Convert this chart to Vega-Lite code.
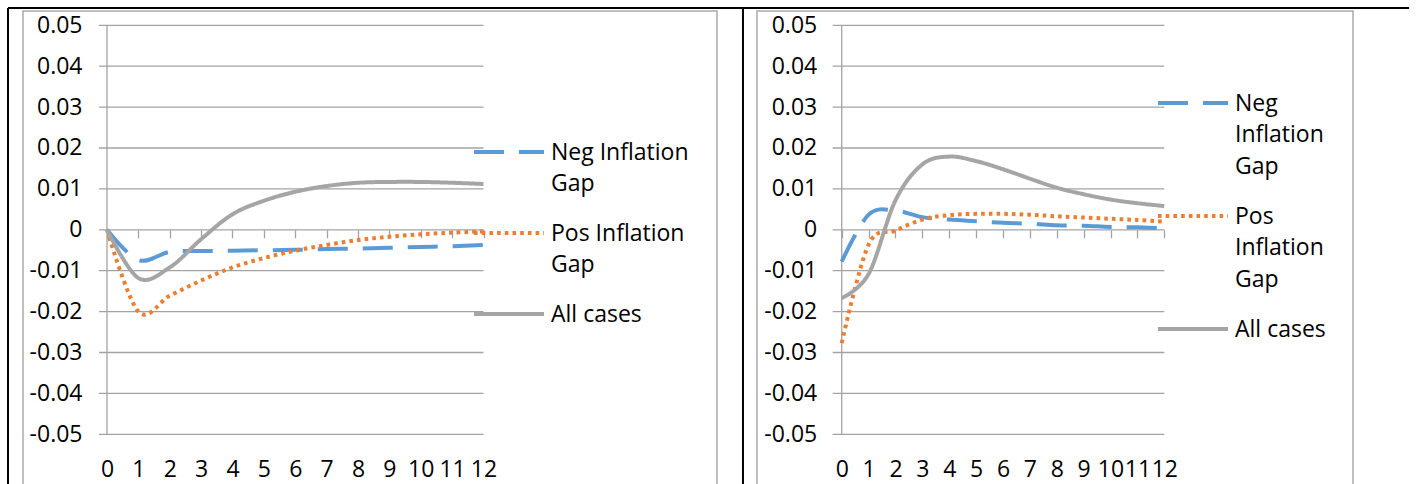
{
  "$schema": "https://vega.github.io/schema/vega-lite/v6.json",
  "padding": {"left": 6, "top": 6, "right": 0, "bottom": 0},
  "bounds": "flush",
  "spacing": 40,
  "config": {
    "font": "Open Sans",
    "view": {"stroke": "#ABABAB", "strokeWidth": 1.5},
    "style": {"guide-label": {"lineHeight": 31.5, "dy": -10.5}}
  },
  "datasets": {
    "grid": [{"g": -0.05}, {"g": -0.04}, {"g": -0.03}, {"g": -0.02}, {"g": -0.01}, {"g": 0}, {"g": 0.01}, {"g": 0.02}, {"g": 0.03}, {"g": 0.04}, {"g": 0.05}],
    "left": [
      {"x": 0, "s": "Neg Inflation Gap", "v": 0}, {"x": 1, "s": "Neg Inflation Gap", "v": -0.0074}, {"x": 2, "s": "Neg Inflation Gap", "v": -0.0054}, {"x": 3, "s": "Neg Inflation Gap", "v": -0.0052}, {"x": 4, "s": "Neg Inflation Gap", "v": -0.0051}, {"x": 5, "s": "Neg Inflation Gap", "v": -0.005}, {"x": 6, "s": "Neg Inflation Gap", "v": -0.0049}, {"x": 7, "s": "Neg Inflation Gap", "v": -0.0047}, {"x": 8, "s": "Neg Inflation Gap", "v": -0.0046}, {"x": 9, "s": "Neg Inflation Gap", "v": -0.0044}, {"x": 10, "s": "Neg Inflation Gap", "v": -0.0042}, {"x": 11, "s": "Neg Inflation Gap", "v": -0.004}, {"x": 12, "s": "Neg Inflation Gap", "v": -0.0037},
      {"x": 0, "s": "Pos Inflation Gap", "v": 0}, {"x": 1, "s": "Pos Inflation Gap", "v": -0.02}, {"x": 2, "s": "Pos Inflation Gap", "v": -0.0161}, {"x": 3, "s": "Pos Inflation Gap", "v": -0.0124}, {"x": 4, "s": "Pos Inflation Gap", "v": -0.0092}, {"x": 5, "s": "Pos Inflation Gap", "v": -0.0069}, {"x": 6, "s": "Pos Inflation Gap", "v": -0.0051}, {"x": 7, "s": "Pos Inflation Gap", "v": -0.0037}, {"x": 8, "s": "Pos Inflation Gap", "v": -0.0025}, {"x": 9, "s": "Pos Inflation Gap", "v": -0.0017}, {"x": 10, "s": "Pos Inflation Gap", "v": -0.0011}, {"x": 11, "s": "Pos Inflation Gap", "v": -0.0007}, {"x": 12, "s": "Pos Inflation Gap", "v": -0.0004},
      {"x": 0, "s": "All cases", "v": 0}, {"x": 1, "s": "All cases", "v": -0.0118}, {"x": 2, "s": "All cases", "v": -0.0092}, {"x": 3, "s": "All cases", "v": -0.0023}, {"x": 4, "s": "All cases", "v": 0.0038}, {"x": 5, "s": "All cases", "v": 0.0071}, {"x": 6, "s": "All cases", "v": 0.0093}, {"x": 7, "s": "All cases", "v": 0.0107}, {"x": 8, "s": "All cases", "v": 0.0115}, {"x": 9, "s": "All cases", "v": 0.0117}, {"x": 10, "s": "All cases", "v": 0.0117}, {"x": 11, "s": "All cases", "v": 0.0115}, {"x": 12, "s": "All cases", "v": 0.0112}
    ],
    "right": [
      {"x": 0, "s": "Neg Inflation Gap", "v": -0.0078}, {"x": 1, "s": "Neg Inflation Gap", "v": 0.0037}, {"x": 2, "s": "Neg Inflation Gap", "v": 0.0047}, {"x": 3, "s": "Neg Inflation Gap", "v": 0.0031}, {"x": 4, "s": "Neg Inflation Gap", "v": 0.0025}, {"x": 5, "s": "Neg Inflation Gap", "v": 0.0021}, {"x": 6, "s": "Neg Inflation Gap", "v": 0.0017}, {"x": 7, "s": "Neg Inflation Gap", "v": 0.0015}, {"x": 8, "s": "Neg Inflation Gap", "v": 0.0011}, {"x": 9, "s": "Neg Inflation Gap", "v": 0.001}, {"x": 10, "s": "Neg Inflation Gap", "v": 0.0007}, {"x": 11, "s": "Neg Inflation Gap", "v": 0.0006}, {"x": 12, "s": "Neg Inflation Gap", "v": 0.0004},
      {"x": 0, "s": "Pos Inflation Gap", "v": -0.0277}, {"x": 1, "s": "Pos Inflation Gap", "v": -0.0036}, {"x": 2, "s": "Pos Inflation Gap", "v": -0.0002}, {"x": 3, "s": "Pos Inflation Gap", "v": 0.0025}, {"x": 4, "s": "Pos Inflation Gap", "v": 0.0036}, {"x": 5, "s": "Pos Inflation Gap", "v": 0.0039}, {"x": 6, "s": "Pos Inflation Gap", "v": 0.0039}, {"x": 7, "s": "Pos Inflation Gap", "v": 0.0037}, {"x": 8, "s": "Pos Inflation Gap", "v": 0.0033}, {"x": 9, "s": "Pos Inflation Gap", "v": 0.003}, {"x": 10, "s": "Pos Inflation Gap", "v": 0.0027}, {"x": 11, "s": "Pos Inflation Gap", "v": 0.0024}, {"x": 12, "s": "Pos Inflation Gap", "v": 0.002},
      {"x": 0, "s": "All cases", "v": -0.0167}, {"x": 1, "s": "All cases", "v": -0.0108}, {"x": 2, "s": "All cases", "v": 0.0072}, {"x": 3, "s": "All cases", "v": 0.016}, {"x": 4, "s": "All cases", "v": 0.0179}, {"x": 5, "s": "All cases", "v": 0.0168}, {"x": 6, "s": "All cases", "v": 0.0148}, {"x": 7, "s": "All cases", "v": 0.0125}, {"x": 8, "s": "All cases", "v": 0.0103}, {"x": 9, "s": "All cases", "v": 0.0087}, {"x": 10, "s": "All cases", "v": 0.0074}, {"x": 11, "s": "All cases", "v": 0.0065}, {"x": 12, "s": "All cases", "v": 0.0058}
    ]
  },
  "resolve": {
    "scale": {"x": "independent", "y": "independent", "color": "independent", "strokeDash": "independent"},
    "legend": {"color": "independent", "strokeDash": "independent"}
  },
  "hconcat": [
    {
      "width": 694,
      "height": 500,
      "layer": [
        {
          "data": {"name": "grid"},
          "mark": {"type": "rule", "color": "#A3A3A3", "strokeWidth": 1.3},
          "encoding": {
            "y": {"field": "g", "type": "quantitative", "scale": {"domain": [-0.068753, 0.053496], "nice": false, "zero": false}},
            "x": {"datum": -0.255, "type": "quantitative", "scale": {"domain": [-2.677, 19.442], "nice": false, "zero": false}},
            "x2": {"datum": 12}
          }
        },
        {
          "data": {"values": [{}]},
          "mark": {"type": "rule", "color": "#A3A3A3", "strokeWidth": 1.3},
          "encoding": {
            "x": {"datum": 0, "type": "quantitative", "scale": {"domain": [-2.677, 19.442], "nice": false, "zero": false}},
            "y": {"datum": -0.05, "type": "quantitative", "scale": {"domain": [-0.068753, 0.053496], "nice": false, "zero": false}},
            "y2": {"datum": 0.05}
          }
        },
        {
          "data": {"values": [{}]},
          "mark": {"type": "rule", "color": "#000000", "strokeWidth": 2},
          "encoding": {
            "x": {"datum": -3.155, "type": "quantitative", "scale": {"domain": [-2.677, 19.442], "nice": false, "zero": false}},
            "y": {"datum": 0.05423, "type": "quantitative", "scale": {"domain": [-0.068753, 0.053496], "nice": false, "zero": false}},
            "y2": {"datum": -0.0688}
          }
        },
        {
          "data": {"values": [{}]},
          "mark": {"type": "rule", "color": "#000000", "strokeWidth": 2},
          "encoding": {
            "x": {"datum": 20.27, "type": "quantitative", "scale": {"domain": [-2.677, 19.442], "nice": false, "zero": false}},
            "y": {"datum": 0.05423, "type": "quantitative", "scale": {"domain": [-0.068753, 0.053496], "nice": false, "zero": false}},
            "y2": {"datum": -0.0688}
          }
        },
        {
          "data": {"values": [{}]},
          "mark": {"type": "rule", "color": "#000000", "strokeWidth": 2},
          "encoding": {
            "x": {"datum": -3.155, "type": "quantitative", "scale": {"domain": [-2.677, 19.442], "nice": false, "zero": false}},
            "x2": {"datum": 41.5},
            "y": {"datum": 0.05423, "type": "quantitative", "scale": {"domain": [-0.068753, 0.053496], "nice": false, "zero": false}}
          }
        },
        {
          "data": {"name": "left"},
          "mark": {"type": "line", "strokeWidth": 4, "strokeCap": "butt", "interpolate": "cardinal"},
          "encoding": {
            "x": {"field": "x", "type": "quantitative", "scale": {"domain": [-2.677, 19.442], "nice": false, "zero": false},
              "axis": {"title": null, "orient": "bottom", "offset": -281.2, "domain": false, "ticks": true, "tickSize": 8, "tickColor": "#A3A3A3", "tickWidth": 1.3, "grid": false,
                "labelPadding": 231, "values": [0, 1, 2, 3, 4, 5, 6, 7, 8, 9, 10, 11, 12], "format": "d",
                "labelFont": "Open Sans", "labelFontSize": 23, "labelColor": "#000000", "labelOverlap": false, "labelFlush": false, "labelBound": false}},
            "y": {"field": "v", "type": "quantitative", "scale": {"domain": [-0.068753, 0.053496], "nice": false, "zero": false},
              "axis": {"title": null, "orient": "left", "offset": -84, "domain": false, "ticks": false, "tickSize": 0, "grid": false, "labelPadding": 25, "labelOffset": 10.5,
                "values": [-0.05, -0.04, -0.03, -0.02, -0.01, 0, 0.01, 0.02, 0.03, 0.04, 0.05],
                "labelExpr": "datum.value == 0 ? '0' : (datum.value < 0 ? '-' : '') + format(abs(datum.value), '.2f')",
                "labelFont": "Open Sans", "labelFontSize": 23, "labelColor": "#000000", "labelBound": false, "labelOverlap": false}},
            "color": {"field": "s", "type": "nominal",
              "scale": {"domain": ["Neg Inflation Gap", "Pos Inflation Gap", "All cases"], "range": ["#5B9BD5", "#ED7D31", "#A5A5A5"]},
              "legend": {"title": null, "orient": "none", "legendX": 449, "legendY": 104, "direction": "vertical", "padding": 0,
                "symbolType": "stroke", "symbolSize": 4900, "symbolStrokeWidth": 4, "labelOffset": 5, "rowPadding": 0,
                "labelFont": "Open Sans", "labelFontSize": 23, "labelColor": "#000000", "labelLimit": 400, "labelBaseline": "top",
                "labelExpr": "datum.label == 'All cases' ? datum.label : [replace(datum.label, ' Gap', ''), 'Gap']"}},
            "strokeDash": {"field": "s", "type": "nominal",
              "scale": {"domain": ["Neg Inflation Gap", "Pos Inflation Gap", "All cases"], "range": [[30, 15], [3.6, 4.1], [1, 0]]},
              "legend": {"title": null, "orient": "none", "legendX": 449, "legendY": 104, "direction": "vertical", "padding": 0,
                "symbolType": "stroke", "symbolSize": 4900, "symbolStrokeWidth": 4, "labelOffset": 5, "rowPadding": 0,
                "labelFont": "Open Sans", "labelFontSize": 23, "labelColor": "#000000", "labelLimit": 400, "labelBaseline": "top",
                "labelExpr": "datum.label == 'All cases' ? datum.label : [replace(datum.label, ' Gap', ''), 'Gap']"}}
          }
        }
      ]
    },
    {
      "width": 596,
      "height": 500,
      "layer": [
        {
          "data": {"name": "grid"},
          "mark": {"type": "rule", "color": "#A3A3A3", "strokeWidth": 1.3},
          "encoding": {
            "y": {"field": "g", "type": "quantitative", "scale": {"domain": [-0.068753, 0.053496], "nice": false, "zero": false}},
            "x": {"datum": -0.335, "type": "quantitative", "scale": {"domain": [-3.151, 19.02], "nice": false, "zero": false}},
            "x2": {"datum": 12}
          }
        },
        {
          "data": {"values": [{}]},
          "mark": {"type": "rule", "color": "#A3A3A3", "strokeWidth": 1.3},
          "encoding": {
            "x": {"datum": 0, "type": "quantitative", "scale": {"domain": [-3.151, 19.02], "nice": false, "zero": false}},
            "y": {"datum": -0.05, "type": "quantitative", "scale": {"domain": [-0.068753, 0.053496], "nice": false, "zero": false}},
            "y2": {"datum": 0.05}
          }
        },
        {
          "data": {"name": "right"},
          "mark": {"type": "line", "strokeWidth": 4, "strokeCap": "butt", "interpolate": "cardinal"},
          "encoding": {
            "x": {"field": "x", "type": "quantitative", "scale": {"domain": [-3.151, 19.02], "nice": false, "zero": false},
              "axis": {"title": null, "orient": "bottom", "offset": -281.2, "domain": false, "ticks": true, "tickSize": 8, "tickColor": "#A3A3A3", "tickWidth": 1.3, "grid": false,
                "labelPadding": 231, "values": [0, 1, 2, 3, 4, 5, 6, 7, 8, 9, 10, 11, 12], "format": "d",
                "labelFont": "Open Sans", "labelFontSize": 23, "labelColor": "#000000", "labelOverlap": false, "labelFlush": false, "labelBound": false}},
            "y": {"field": "v", "type": "quantitative", "scale": {"domain": [-0.068753, 0.053496], "nice": false, "zero": false},
              "axis": {"title": null, "orient": "left", "offset": -84.7, "domain": false, "ticks": false, "tickSize": 0, "grid": false, "labelPadding": 25, "labelOffset": 10.5,
                "values": [-0.05, -0.04, -0.03, -0.02, -0.01, 0, 0.01, 0.02, 0.03, 0.04, 0.05],
                "labelExpr": "datum.value == 0 ? '0' : (datum.value < 0 ? '-' : '') + format(abs(datum.value), '.2f')",
                "labelFont": "Open Sans", "labelFontSize": 23, "labelColor": "#000000", "labelBound": false, "labelOverlap": false}},
            "color": {"field": "s", "type": "nominal",
              "scale": {"domain": ["Neg Inflation Gap", "Pos Inflation Gap", "All cases"], "range": ["#5B9BD5", "#ED7D31", "#A5A5A5"]},
              "legend": {"title": null, "orient": "none", "legendX": 399, "legendY": 55, "direction": "vertical", "padding": 0,
                "symbolType": "stroke", "symbolSize": 4900, "symbolStrokeWidth": 4, "labelOffset": 5, "rowPadding": 0,
                "labelFont": "Open Sans", "labelFontSize": 23, "labelColor": "#000000", "labelLimit": 400, "labelBaseline": "top",
                "labelExpr": "datum.label == 'All cases' ? datum.label : split(datum.label, ' ')"}},
            "strokeDash": {"field": "s", "type": "nominal",
              "scale": {"domain": ["Neg Inflation Gap", "Pos Inflation Gap", "All cases"], "range": [[30, 15], [3.6, 4.1], [1, 0]]},
              "legend": {"title": null, "orient": "none", "legendX": 399, "legendY": 55, "direction": "vertical", "padding": 0,
                "symbolType": "stroke", "symbolSize": 4900, "symbolStrokeWidth": 4, "labelOffset": 5, "rowPadding": 0,
                "labelFont": "Open Sans", "labelFontSize": 23, "labelColor": "#000000", "labelLimit": 400, "labelBaseline": "top",
                "labelExpr": "datum.label == 'All cases' ? datum.label : split(datum.label, ' ')"}}
          }
        }
      ]
    }
  ]
}
